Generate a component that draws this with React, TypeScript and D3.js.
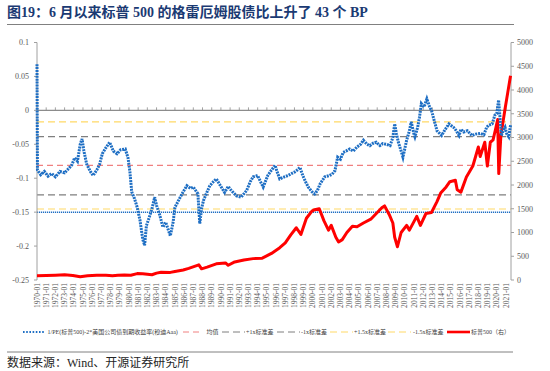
import React from 'react'
import * as d3 from 'd3'

// 1/PE(S&P500) - 2 * Moody's Aaa yield, decimal year -> value (left axis)
const spreadYears = [1970.0, 1970.05, 1970.4, 1970.8, 1971.2, 1971.6, 1972.0, 1972.5, 1973.0, 1973.5, 1973.8, 1974.1, 1974.4, 1974.7, 1974.9, 1975.1, 1975.4, 1975.8, 1976.1, 1976.5, 1976.8, 1977.1, 1977.5, 1977.9, 1978.3, 1978.7, 1979.1, 1979.6, 1979.9, 1980.1, 1980.3, 1980.6, 1980.9, 1981.2, 1981.5, 1981.7, 1981.9, 1982.2, 1982.5, 1982.8, 1983.0, 1983.3, 1983.7, 1984.0, 1984.5, 1984.8, 1985.0, 1985.5, 1985.9, 1986.3, 1986.7, 1987.0, 1987.5, 1987.7, 1987.9, 1988.1, 1988.5, 1988.8, 1989.2, 1989.5, 1989.9, 1990.4, 1990.8, 1991.0, 1991.4, 1991.7, 1992.2, 1992.8, 1993.2, 1993.5, 1994.0, 1994.3, 1994.6, 1995.1, 1995.5, 1995.9, 1996.1, 1996.4, 1996.9, 1997.3, 1997.7, 1998.0, 1998.3, 1998.6, 1998.9, 1999.2, 1999.5, 1999.9, 2000.2, 2000.5, 2000.8, 2001.3, 2001.8, 2002.1, 2002.4, 2002.7, 2003.0, 2003.3, 2003.6, 2004.0, 2004.4, 2004.8, 2005.2, 2005.5, 2005.9, 2006.2, 2006.6, 2006.9, 2007.3, 2007.6, 2008.0, 2008.4, 2008.7, 2008.9, 2009.1, 2009.3, 2009.6, 2009.8, 2010.2, 2010.5, 2010.7, 2011.0, 2011.1, 2011.4, 2011.6, 2011.8, 2012.1, 2012.4, 2012.7, 2012.9, 2013.2, 2013.5, 2014.0, 2014.4, 2014.8, 2015.3, 2015.6, 2015.9, 2016.1, 2016.4, 2016.8, 2017.3, 2017.7, 2018.2, 2018.6, 2018.9, 2019.1, 2019.5, 2019.8, 2020.0, 2020.2, 2020.35, 2020.5, 2020.7, 2020.9, 2021.1, 2021.3, 2021.5]
const spreadValues = [0.068, -0.088, -0.095, -0.09, -0.097, -0.093, -0.098, -0.09, -0.092, -0.085, -0.08, -0.07, -0.075, -0.05, -0.042, -0.06, -0.079, -0.09, -0.096, -0.088, -0.08, -0.064, -0.055, -0.047, -0.06, -0.064, -0.058, -0.057, -0.07, -0.09, -0.12, -0.13, -0.143, -0.162, -0.19, -0.199, -0.17, -0.158, -0.145, -0.128, -0.14, -0.152, -0.172, -0.165, -0.185, -0.165, -0.143, -0.13, -0.12, -0.111, -0.115, -0.113, -0.123, -0.167, -0.145, -0.133, -0.12, -0.111, -0.105, -0.101, -0.11, -0.121, -0.112, -0.116, -0.122, -0.126, -0.128, -0.118, -0.105, -0.098, -0.096, -0.105, -0.113, -0.096, -0.088, -0.081, -0.09, -0.101, -0.098, -0.096, -0.093, -0.091, -0.088, -0.084, -0.096, -0.105, -0.113, -0.12, -0.123, -0.118, -0.108, -0.098, -0.096, -0.094, -0.089, -0.069, -0.072, -0.062, -0.06, -0.057, -0.06, -0.054, -0.05, -0.044, -0.05, -0.052, -0.048, -0.047, -0.052, -0.049, -0.05, -0.052, -0.04, -0.02, -0.035, -0.047, -0.06, -0.069, -0.044, -0.03, -0.017, -0.035, -0.039, -0.025, -0.01, 0.01, 0.005, 0.017, 0.005, 0.0, -0.015, -0.03, -0.037, -0.028, -0.02, -0.025, -0.03, -0.037, -0.028, -0.032, -0.03, -0.037, -0.035, -0.034, -0.036, -0.025, -0.022, -0.02, -0.007, -0.005, 0.015, -0.01, -0.037, -0.03, -0.025, -0.035, -0.039, -0.022]

// S&P 500 index (right axis)
const spxYears = [1970.0, 1971.0, 1972.0, 1973.0, 1973.9, 1974.7, 1975.5, 1976.5, 1977.5, 1978.2, 1978.8, 1979.5, 1980.2, 1980.9, 1981.5, 1982.5, 1983.0, 1983.5, 1984.5, 1985.0, 1985.9, 1986.5, 1987.6, 1987.9, 1988.5, 1989.5, 1990.5, 1990.8, 1991.5, 1992.5, 1993.5, 1994.5, 1995.5, 1996.4, 1997.0, 1997.6, 1998.2, 1998.7, 1999.3, 1999.9, 2000.2, 2000.7, 2001.2, 2001.7, 2002.0, 2002.5, 2002.8, 2003.2, 2003.7, 2004.3, 2004.8, 2005.5, 2006.3, 2006.9, 2007.5, 2007.8, 2008.3, 2008.7, 2008.9, 2009.2, 2009.6, 2010.2, 2010.5, 2011.3, 2011.7, 2012.3, 2012.9, 2013.5, 2013.9, 2014.5, 2014.9, 2015.5, 2015.7, 2016.1, 2016.7, 2017.4, 2018.0, 2018.2, 2018.7, 2018.98, 2019.3, 2019.6, 2019.9, 2020.1, 2020.22, 2020.45, 2020.7, 2020.9, 2021.2, 2021.5]
const spxValues = [90, 95, 102, 110, 95, 70, 90, 102, 98, 90, 100, 105, 100, 135, 130, 110, 145, 165, 160, 180, 210, 245, 320, 235, 270, 340, 360, 310, 380, 420, 450, 460, 560, 680, 780, 950, 1100, 960, 1300, 1450, 1480, 1500, 1250, 1050, 1150, 900, 800, 850, 1000, 1130, 1120, 1200, 1280, 1400, 1520, 1560, 1380, 1200, 900, 700, 1000, 1150, 1050, 1340, 1150, 1400, 1420, 1650, 1830, 1960, 2070, 2100, 1900, 1850, 2170, 2400, 2800, 2600, 2900, 2400, 2900, 2950, 3200, 3380, 2240, 3050, 3350, 3600, 3950, 4300]

// reference lines (left axis)
const refNames = ['均值', '+1x标准差', '-1x标准差', '+1.5x标准差', '-1.5x标准差']
const refValues = [-0.0812, -0.0388, -0.1245, -0.017, -0.1454]
const refColors = ['#f08080', '#7f7f7f', '#7f7f7f', '#ffd966', '#ffd966']
const extraBlueLine = -0.15

const leftTicks = [0.1, 0.05, 0, -0.05, -0.1, -0.15, -0.2, -0.25]
const rightTicks = [5000, 4500, 4000, 3500, 3000, 2500, 2000, 1500, 1000, 500, 0]
const yearLabels = d3.range(1970, 2022)

const W = 550
const H = 371
const L = 37
const R = 511
const T = 42.5
const B = 280

const serif = "'Liberation Serif', 'Times New Roman', 'Noto Sans CJK SC', serif"
const BLUE = '#1f6fc4'

export default function App() {
  const x = d3.scaleLinear().domain([1970, 2021.55]).range([L, R])
  const yL = d3.scaleLinear().domain([-0.25, 0.1]).range([B, T])
  const yR = d3.scaleLinear().domain([0, 5000]).range([B, T])

  const blueLine = d3.line<number>()
    .x((_, i) => x(spreadYears[i]))
    .y(d => yL(d))
  const redLine = d3.line<number>()
    .x((_, i) => x(spxYears[i]))
    .y(d => yR(d))

  const dashFor = (i: number) => (i === 0 ? '6,4' : '7,4')

  // legend layout
  const ly = 332
  const legend = [
    { x1: 23, x2: 44, tx: 47.5, label: '1/PE(标普500)-2*美国公司债到期收益率(穆迪Aaa)', kind: 'blue' },
    { x1: 183, x2: 203, tx: 206.5, label: refNames[0], kind: 'ref', i: 0 },
    { x1: 222, x2: 245, tx: 246, label: refNames[1], kind: 'ref', i: 1 },
    { x1: 277, x2: 300, tx: 301, label: refNames[2], kind: 'ref', i: 2 },
    { x1: 330, x2: 353, tx: 354, label: refNames[3], kind: 'ref', i: 3 },
    { x1: 388, x2: 411, tx: 413, label: refNames[4], kind: 'ref', i: 4 },
    { x1: 447, x2: 470, tx: 471, label: '标普500（右）', kind: 'red' },
  ]

  return (
    <svg width={W} height={H} style={{ position: 'absolute', left: 0, top: 0 }}>
      <rect width={W} height={H} fill="#fff" />
      {/* title */}
      <text x={7} y={17} fontFamily={serif} fontSize={14} fontWeight="bold" fill="#1b3a73">
        图19：6 月以来标普 500 的格雷厄姆股债比上升了 43 个 BP
      </text>
      <line x1={7} x2={514} y1={24.5} y2={24.5} stroke="#808080" strokeWidth={1} />

      {/* reference lines */}
      {refValues.map((v, i) => (
        <line key={i} x1={L} x2={R} y1={yL(v)} y2={yL(v)} stroke={refColors[i]}
          strokeWidth={1.2} strokeDasharray={dashFor(i)} />
      ))}
      <line x1={L} x2={R} y1={yL(extraBlueLine)} y2={yL(extraBlueLine)} stroke={BLUE}
        strokeWidth={1.5} strokeDasharray="1.2,0.8" />

      {/* zero line with year ticks */}
      <line x1={L} x2={R} y1={yL(0)} y2={yL(0)} stroke="#8c8c8c" strokeWidth={1.2} />
      {yearLabels.map(yr => (
        <line key={yr} x1={x(yr)} x2={x(yr)} y1={yL(0)} y2={yL(0) - 3} stroke="#8c8c8c" strokeWidth={0.8} />
      ))}

      {/* axes */}
      <line x1={L} x2={L} y1={T} y2={B} stroke="#a0a0a0" strokeWidth={1} />
      {leftTicks.map(t => (
        <g key={t}>
          <line x1={L - 3} x2={L} y1={yL(t)} y2={yL(t)} stroke="#a0a0a0" />
          <text x={29} y={yL(t)} dy="0.35em" textAnchor="end" fontFamily={serif} fontSize={8} fill="#595959">
            {t}
          </text>
        </g>
      ))}
      <line x1={R} x2={R} y1={T} y2={B} stroke="#a0a0a0" strokeWidth={1} />
      {rightTicks.map(t => (
        <g key={t}>
          <line x1={R} x2={R + 3} y1={yR(t)} y2={yR(t)} stroke="#a0a0a0" />
          <text x={517} y={yR(t)} dy="0.35em" textAnchor="start" fontFamily={serif} fontSize={8} fill="#595959">
            {t}
          </text>
        </g>
      ))}

      {/* year labels */}
      {yearLabels.map(yr => (
        <text key={yr} transform={`translate(${x(yr)},283) rotate(-90)`} dy="0.35em" textAnchor="end"
          fontFamily={serif} fontSize={7.5} fill="#595959">
          {`${yr}-01`}
        </text>
      ))}

      {/* series */}
      <path d={redLine(spxValues) || ''} fill="none" stroke="#ff0000" strokeWidth={3} strokeLinejoin="round" />
      <path d={blueLine(spreadValues) || ''} fill="none" stroke={BLUE} strokeWidth={3} strokeDasharray="2,0.9" />

      {/* legend */}
      {legend.map((d, k) => (
        <g key={k}>
          {d.kind === 'blue' && (
            <line x1={d.x1} x2={d.x2} y1={ly} y2={ly} stroke={BLUE} strokeWidth={2} strokeDasharray="1.6,1.6" />
          )}
          {d.kind === 'ref' && (
            <line x1={d.x1} x2={d.x2} y1={ly} y2={ly} stroke={refColors[d.i as number]} strokeWidth={1}
              strokeDasharray={dashFor(d.i as number)} />
          )}
          {d.kind === 'red' && (
            <line x1={d.x1} x2={d.x2} y1={ly} y2={ly} stroke="#ff0000" strokeWidth={2.6} />
          )}
          <text x={d.tx} y={ly} dy="0.35em" fontFamily={serif} fontSize={6} fill="#404040">
            {d.label}
          </text>
        </g>
      ))}

      {/* footer */}
      <line x1={7} x2={513} y1={352} y2={352} stroke="#808080" strokeWidth={1} />
      <text x={7} y={367} fontFamily={serif} fontSize={12} fill="#262626">
        数据来源：Wind、开源证券研究所
      </text>
    </svg>
  )
}
